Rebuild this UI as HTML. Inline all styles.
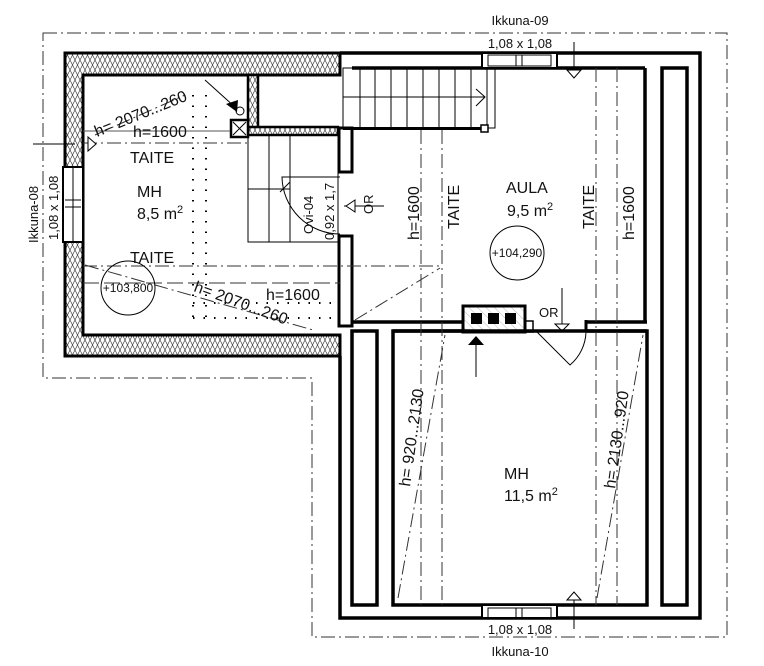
<!DOCTYPE html>
<html><head><meta charset="utf-8"><style>
html,body{margin:0;padding:0;background:#fff;}
svg{display:block;}
text{font-family:"Liberation Sans",sans-serif;fill:#111;}
</style></head><body>
<svg width="764" height="666" viewBox="0 0 764 666" xmlns="http://www.w3.org/2000/svg">
<defs>
<pattern id="ins" width="10" height="10" patternUnits="userSpaceOnUse">
<rect width="10" height="10" fill="#fff"/>
<path d="M0,0 L5,10 L10,0 M0,10 L5,0 L10,10" stroke="#444" stroke-width="0.7" fill="none"/>
</pattern>
<pattern id="hat" width="6" height="6" patternUnits="userSpaceOnUse" patternTransform="rotate(-45)">
<line x1="0" y1="0" x2="0" y2="6" stroke="#bbb" stroke-width="1"/>
</pattern>
</defs>

<path d="M43,33 H727 V637 H312 V378 H43 Z" fill="none" stroke="#333" stroke-width="1" stroke-dasharray="14,4,2,4"/>

<path d="M65,53 H340 V75 H83 V335 H340 V356 H65 Z" fill="url(#ins)" stroke="#000" stroke-width="3"/>
<rect x="63" y="167" width="20" height="75" fill="#fff" stroke="#000" stroke-width="2"/>
<line x1="73" y1="167" x2="73" y2="242" stroke="#000" stroke-width="1"/>
<line x1="65" y1="200" x2="81" y2="200" stroke="#000" stroke-width="1"/>
<line x1="65" y1="207" x2="81" y2="207" stroke="#000" stroke-width="1"/>

<rect x="248" y="75" width="10" height="58" fill="url(#ins)" stroke="#000" stroke-width="2.5"/>
<rect x="248" y="127" width="90" height="8" fill="url(#ins)" stroke="#000" stroke-width="2.5"/>
<rect x="339" y="128" width="13" height="44" fill="#fff" stroke="#000" stroke-width="3"/>
<rect x="231" y="120" width="17" height="17" fill="#fff" stroke="#000" stroke-width="2.5"/>
<path d="M233,122 L246,135 M246,122 L233,135" stroke="#000" stroke-width="1"/>
<circle cx="240" cy="111" r="4" fill="none" stroke="#000" stroke-width="1"/>
<line x1="205" y1="80" x2="236" y2="108" stroke="#000" stroke-width="1"/>
<path d="M226,104 L238,100 L237,112 Z" fill="#000"/>

<rect x="343" y="68" width="152" height="60" fill="none" stroke="#000" stroke-width="1"/>
<g stroke="#000" stroke-width="1">
<line x1="360" y1="68" x2="360" y2="127"/><line x1="375" y1="68" x2="375" y2="127"/>
<line x1="391" y1="68" x2="391" y2="127"/><line x1="407" y1="68" x2="407" y2="127"/>
<line x1="423" y1="68" x2="423" y2="127"/><line x1="439" y1="68" x2="439" y2="127"/>
<line x1="455" y1="68" x2="455" y2="127"/><line x1="471" y1="68" x2="471" y2="127"/>
<line x1="487" y1="68" x2="487" y2="127"/>
<line x1="343" y1="97" x2="485" y2="97"/>
<path d="M476,89 L485,97 L476,106" fill="none"/>
</g>
<rect x="343" y="127" width="140" height="3" fill="#000"/>
<rect x="481" y="125" width="7" height="7" fill="#fff" stroke="#000" stroke-width="1.5"/>

<rect x="248" y="135" width="90" height="107" fill="none" stroke="#000" stroke-width="1"/>
<g stroke="#000" stroke-width="1">
<line x1="269" y1="135" x2="269" y2="242"/><line x1="290" y1="135" x2="290" y2="242"/>
<line x1="248" y1="189" x2="290" y2="189"/>
</g>
<path d="M340,177 H282 A58,58 0 0 0 340,234" fill="none" stroke="#000" stroke-width="1"/>
<line x1="280" y1="192" x2="290" y2="182" stroke="#000" stroke-width="1"/>
<rect x="339" y="236" width="13" height="90" fill="#fff" stroke="#000" stroke-width="3"/>
<text transform="translate(313,234) rotate(-90)" font-size="13">Ovi-04</text>
<text transform="translate(334,240) rotate(-90)" font-size="13">0,92 x 1,7</text>
<text transform="translate(373,214) rotate(-90)" font-size="13">OR</text>
<line x1="344" y1="206" x2="384" y2="206" stroke="#000" stroke-width="1"/>
<path d="M355,200 L346,206 L355,212 Z" fill="#fff" stroke="#000" stroke-width="1"/>

<path d="M340,53 H700 V618 H340 V356" fill="none" stroke="#000" stroke-width="3.5"/>
<line x1="352" y1="68" x2="645" y2="68" stroke="#000" stroke-width="3.5"/>
<line x1="645" y1="68" x2="645" y2="322" stroke="#000" stroke-width="3.5"/>
<rect x="662" y="68" width="25" height="537" fill="none" stroke="#000" stroke-width="3.5"/>
<rect x="482" y="53" width="75" height="15" fill="#fff" stroke="#000" stroke-width="2"/>
<rect x="488" y="55" width="63" height="11" fill="none" stroke="#000" stroke-width="1"/>
<line x1="516" y1="55" x2="516" y2="66" stroke="#000"/><line x1="522" y1="55" x2="522" y2="66" stroke="#000"/>
<line x1="574" y1="42" x2="574" y2="76" stroke="#000" stroke-width="1"/>
<path d="M567,70 L574,78 L581,70 Z" fill="#fff" stroke="#000"/>

<line x1="352" y1="322" x2="463" y2="322" stroke="#000" stroke-width="3.5"/>
<line x1="525" y1="322" x2="533" y2="322" stroke="#000" stroke-width="2"/>
<line x1="587" y1="322" x2="647" y2="322" stroke="#000" stroke-width="3.5"/>
<line x1="393" y1="331" x2="463" y2="331" stroke="#000" stroke-width="3.5"/>
<line x1="587" y1="331" x2="647" y2="331" stroke="#000" stroke-width="3.5"/>
<rect x="525" y="321" width="8" height="11" fill="#fff" stroke="#000" stroke-width="1.5"/>
<line x1="533" y1="331" x2="587" y2="331" stroke="#000" stroke-width="1"/>
<line x1="586" y1="320" x2="586" y2="332" stroke="#000" stroke-width="3"/>
<path d="M537,332 L570,365 A45,45 0 0 0 586,332" fill="none" stroke="#000" stroke-width="1"/>
<line x1="562" y1="288" x2="562" y2="326" stroke="#000" stroke-width="1"/>
<path d="M555,324 L562,331 L569,324 Z" fill="#fff" stroke="#000"/>
<text x="539" y="317" font-size="13">OR</text>
<rect x="463" y="306" width="62" height="26" fill="url(#hat)" stroke="#000" stroke-width="3"/>
<rect x="471" y="313" width="11" height="11" fill="#000"/>
<rect x="488" y="313" width="11" height="11" fill="#000"/>
<rect x="505" y="313" width="11" height="11" fill="#000"/>
<line x1="476" y1="343" x2="476" y2="377" stroke="#000" stroke-width="1"/>
<path d="M468,345 L476,336 L484,345 Z" fill="#000"/>

<rect x="393" y="331" width="254" height="274" fill="none" stroke="#000" stroke-width="3.5"/>
<rect x="352" y="331" width="25" height="274" fill="none" stroke="#000" stroke-width="3.5"/>
<rect x="482" y="605" width="75" height="13" fill="#fff" stroke="#000" stroke-width="2"/>
<rect x="488" y="608" width="63" height="10" fill="none" stroke="#000" stroke-width="1"/>
<line x1="516" y1="608" x2="516" y2="618" stroke="#000"/><line x1="522" y1="608" x2="522" y2="618" stroke="#000"/>
<line x1="574" y1="592" x2="574" y2="629" stroke="#000"/>
<path d="M567,600 L574,592 L581,600 Z" fill="#fff" stroke="#000"/>

<g stroke="#333" stroke-width="1" fill="none" stroke-dasharray="14,4,2,4">
<line x1="83" y1="143" x2="248" y2="143"/>
<line x1="83" y1="266" x2="440" y2="266"/>
<line x1="421" y1="130" x2="421" y2="605"/>
<line x1="442" y1="130" x2="442" y2="605"/>
<line x1="596" y1="68" x2="596" y2="605"/>
<line x1="617" y1="68" x2="617" y2="605"/>
<line x1="355" y1="320" x2="440" y2="268"/>
<line x1="398" y1="598" x2="445" y2="335"/>
<line x1="597" y1="598" x2="643" y2="335"/>
<line x1="85" y1="265" x2="313" y2="330"/>
<line x1="95" y1="135" x2="185" y2="95"/>
</g>
<line x1="83" y1="283" x2="340" y2="283" stroke="#333" stroke-width="1" stroke-dasharray="16,5"/>
<line x1="83" y1="131" x2="230" y2="131" stroke="#555" stroke-width="1"/>
<line x1="33" y1="144" x2="75" y2="144" stroke="#000" stroke-width="1"/>
<path d="M88,137 L96,144 L88,151 Z" fill="#fff" stroke="#000"/>

<g stroke="#000" stroke-width="2" stroke-dasharray="1.5,9" fill="none">
<line x1="193" y1="95" x2="193" y2="320"/>
<line x1="206" y1="95" x2="206" y2="320"/>
<line x1="193" y1="303" x2="340" y2="303"/>
<line x1="193" y1="318" x2="340" y2="318"/>
</g>

<circle cx="128" cy="288" r="27" fill="none" stroke="#000" stroke-width="1"/>
<text x="128" y="292" font-size="12" text-anchor="middle">+103,800</text>
<circle cx="517" cy="253" r="27" fill="none" stroke="#000" stroke-width="1"/>
<text x="517" y="257" font-size="12" text-anchor="middle">+104,290</text>

<text x="520" y="25" font-size="13" text-anchor="middle">Ikkuna-09</text>
<text x="520" y="48" font-size="13" text-anchor="middle">1,08 x 1,08</text>
<text x="520" y="634" font-size="13" text-anchor="middle">1,08 x 1,08</text>
<text x="520" y="656" font-size="13" text-anchor="middle">Ikkuna-10</text>
<text transform="translate(38,243) rotate(-90)" font-size="13">Ikkuna-08</text>
<text transform="translate(58,240) rotate(-90)" font-size="13">1,08 x 1,08</text>

<text x="137" y="197" font-size="16">MH</text>
<text x="137" y="219" font-size="16">8,5 m<tspan font-size="11" dy="-6">2</tspan></text>
<text x="130" y="163" font-size="16">TAITE</text>
<text x="130" y="263" font-size="16">TAITE</text>
<text transform="translate(97,137) rotate(-22)" font-size="16">h= 2070...260</text>
<text x="133" y="137" font-size="16">h=1600</text>
<text transform="translate(193,291) rotate(20)" font-size="16">h= 2070...260</text>
<text x="266" y="300" font-size="16">h=1600</text>

<text x="506" y="193" font-size="16">AULA</text>
<text x="507" y="216" font-size="16">9,5 m<tspan font-size="11" dy="-6">2</tspan></text>
<text transform="translate(419,240) rotate(-90)" font-size="16">h=1600</text>
<text transform="translate(459,229) rotate(-90)" font-size="16">TAITE</text>
<text transform="translate(594,229) rotate(-90)" font-size="16">TAITE</text>
<text transform="translate(634,240) rotate(-90)" font-size="16">h=1600</text>

<text x="504" y="479" font-size="16">MH</text>
<text x="504" y="501" font-size="16">11,5 m<tspan font-size="11" dy="-6">2</tspan></text>
<text transform="translate(410,487) rotate(-82)" font-size="16">h= 920...2130</text>
<text transform="translate(615,489) rotate(-82)" font-size="16">h= 2130...920</text>
</svg>
</body></html>
